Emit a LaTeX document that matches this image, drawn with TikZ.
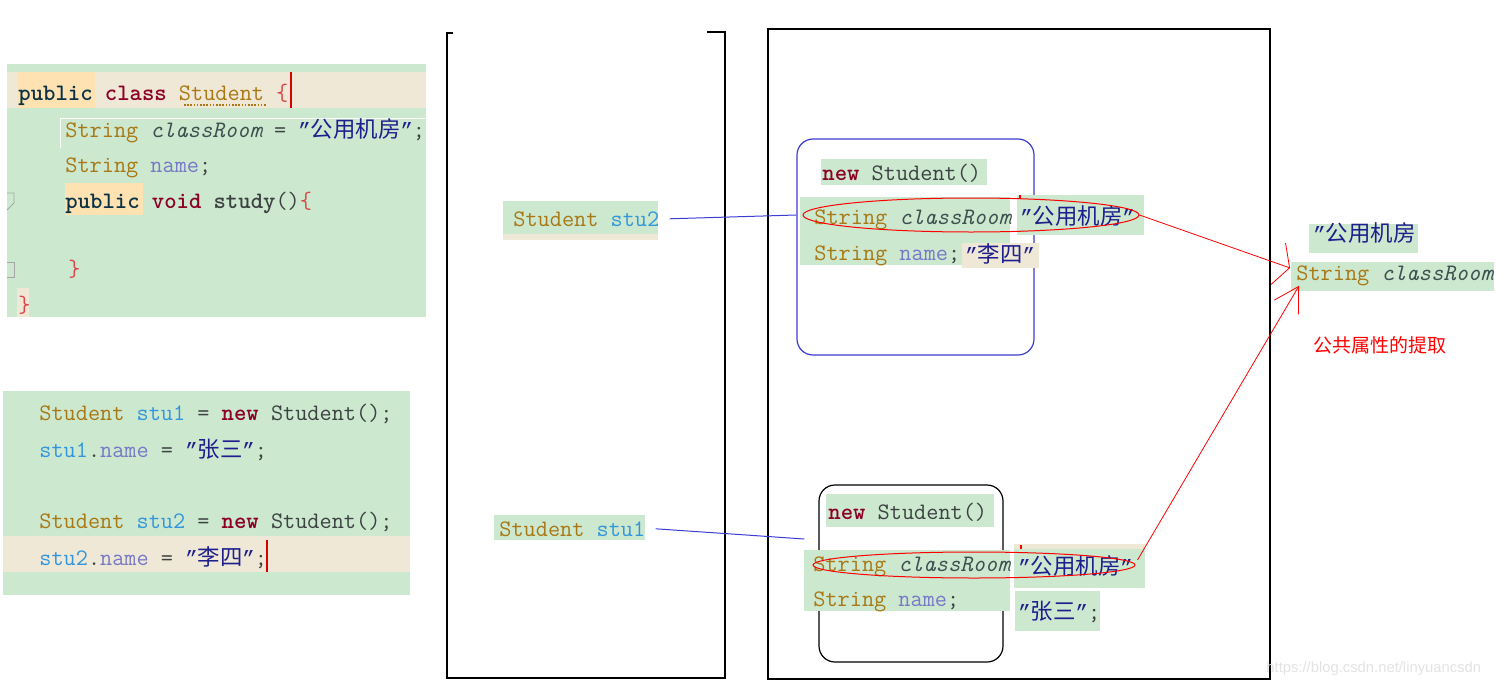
\documentclass[tikz,border=0pt]{standalone}
\usepackage{fontspec}
\newfontfamily\cjk{Noto Sans CJK SC}[Scale=0.95]
\newfontfamily\qfont{Liberation Mono}[Scale=0.875]
\newfontfamily\webfont{Liberation Sans}
\usetikzlibrary{arrows.meta,shapes.geometric}
\definecolor{codebg}{RGB}{204,232,207}
\definecolor{linebg}{RGB}{239,232,214}
\definecolor{hlbg}{RGB}{255,226,178}
\definecolor{kwcol}{RGB}{140,0,40}
\definecolor{pubcol}{RGB}{10,50,70}
\definecolor{tycol}{RGB}{168,120,20}
\definecolor{fldcol}{RGB}{60,80,80}
\definecolor{nmcol}{RGB}{120,120,200}
\definecolor{varcol}{RGB}{50,150,220}
\definecolor{strcol}{RGB}{30,30,140}
\definecolor{puncol}{RGB}{60,65,65}
\definecolor{brccol}{RGB}{220,70,70}
\definecolor{refblue}{RGB}{60,60,210}
\newcommand\kw[1]{{\bfseries\color{kwcol}#1}}
\newcommand\pubkw[1]{{\bfseries\color{pubcol}#1}}
\newcommand\ty[1]{\textcolor{tycol}{#1}}
\newcommand\fld[1]{{\itshape\color{fldcol}#1}}
\newcommand\nm[1]{\textcolor{nmcol}{#1}}
\newcommand\vr[1]{\textcolor{varcol}{#1}}
\newcommand\brc[1]{\textcolor{brccol}{#1}}
\newcommand\qt{{\qfont ”}}
\newcommand\lit[1]{{\color{strcol}\qt{\cjk #1}\qt}}
\tikzset{
  px/.style={x=0.5pt,y=-0.5pt},
  code/.style={anchor=base west,inner sep=0pt,font=\fontsize{11.8}{14}\selectfont\ttfamily,text=puncol},
  objbox/.style={rounded corners=8pt,line width=0.6pt,inner sep=0pt},
  ring/.style={draw=red,ellipse,inner sep=0pt,line width=0.5pt},
  ref/.style={draw=refblue,line width=0.5pt},
  share/.style={draw=red,line width=0.4pt},
  frame/.style={draw=black,line width=0.7pt},
  fold/.style={draw=gray!70,line width=0.4pt}
}
\begin{document}
\begin{tikzpicture}[px]
\useasboundingbox (0,0) rectangle (1504,685);
% class Student
\fill[codebg] (7,64) rectangle (426,317);
\fill[linebg] (7,72) rectangle (426,108);
\fill[hlbg] (17,72) rectangle (95,108);
\fill[hlbg] (65,183) rectangle (143,215);
\fill[linebg] (17,288) rectangle (29,317);
\draw[white,line width=0.5pt] (60,148) -- (60,118) -- (425,118);
\draw[fold] (7,193) -- (14,193) -- (14,203) -- (7,210);
\draw[fold] (7,262) -- (14,262) -- (14,277) -- (7,277);
\node[code] (cls) at (18,100) {\pubkw{public} \kw{class} \ty{Student} \brc{\{}};
\draw[tycol,line width=0.8pt,dash pattern=on 0.8pt off 0.8pt] (184,105) -- (267,105);
\draw[red!85!black,line width=1pt] (291,72) -- (291,108);
\node[code] (room) at (65,137) {\ty{String} \fld{classRoom} = \lit{公用机房};};
\node[code] (name) at (65,172) {\ty{String} \nm{name};};
\node[code] (study) at (65,208) {\pubkw{public} \kw{void} {\bfseries study}()\brc{\{}};
\node[code] (end1) at (68,276) {\brc{\}}};
\node[code] (end2) at (18,312) {\brc{\}}};
% main
\fill[codebg] (3,391) rectangle (410,595);
\fill[linebg] (3,536) rectangle (410,572);
\node[code] (m1) at (39,420) {\ty{Student} \vr{stu1} = \kw{new} Student();};
\node[code] (m2) at (39,457) {\vr{stu1}.\nm{name} = \lit{张三};};
\node[code] (m3) at (39,528) {\ty{Student} \vr{stu2} = \kw{new} Student();};
\node[code] (m4) at (39,565) {\vr{stu2}.\nm{name} = \lit{李四};};
\draw[red!85!black,line width=1pt] (267,540) -- (267,572);
% stack and heap
\draw[frame] (453,33) -- (447,33) -- (447,678) -- (725,678) -- (725,32) -- (707,32);
\draw[frame] (768,29) rectangle (1270,679);
\fill[codebg] (503,201) rectangle (658,234);
\fill[linebg] (503,234) rectangle (658,240);
\node[code] (stu2) at (513,226) {\ty{Student} \vr{stu2}};
\fill[codebg] (494,515) rectangle (645,540);
\node[code] (stu1) at (499,536) {\ty{Student} \vr{stu1}};
% object of stu2
\node[objbox,draw=refblue,minimum width=118.5pt,minimum height=108pt] (obj2) at (915.5,247) {};
\fill[codebg] (821,159) rectangle (987,185);
\fill[codebg] (800,197) rectangle (1010,265);
\fill[codebg] (1017,195) rectangle (1144,235);
\fill[linebg] (962,243) rectangle (1039,268);
\node[code] (new2) at (822,180) {\kw{new} Student()};
\node[code] (cr2) at (814,224) {\ty{String} \fld{classRoom}};
\node[code] (v2) at (1020,224) {\lit{公用机房}};
\node[code] (nm2) at (814,260) {\ty{String} \nm{name};};
\node[code] (n2) at (965,262) {\lit{李四}};
\node[ring,minimum width=168pt,minimum height=17pt] (ring2) at (971,215) {};
\draw[red,line width=0.8pt] (1020,195) -- (1020,199);
% object of stu1
\node[objbox,draw=black,minimum width=92pt,minimum height=88.5pt] (obj1) at (911,573.5) {};
\fill[codebg] (826,494) rectangle (994,527);
\fill[codebg] (804,550) rectangle (1010,611);
\fill[linebg] (1014,544) rectangle (1145,549);
\fill[codebg] (1014,549) rectangle (1145,588);
\fill[codebg] (1015,591) rectangle (1100,631);
\node[code] (new1) at (828,519) {\kw{new} Student()};
\node[code] (cr1) at (813,571) {\ty{String} \fld{classRoom}};
\node[code] (v1) at (1018,574) {\lit{公用机房}};
\node[code] (nm1) at (813,606) {\ty{String} \nm{name};};
\node[code] (n1) at (1018,619) {\lit{张三};};
\node[ring,minimum width=161pt,minimum height=13pt] (ring1) at (974,565) {};
\draw[red,line width=0.8pt] (1021,545) -- (1021,549);
% references
\draw[ref] ([xshift=5pt]stu2.east) -- ([yshift=16pt]obj2.west);
\draw[ref] ([xshift=5pt]stu1.east) -- ([shift={(-7pt,17.25pt)}]obj1.west);
% shared field
\fill[codebg] (1309,224) rectangle (1418,253);
\fill[codebg] (1291,262) rectangle (1494,291);
\node[code] (sv) at (1313,241) {{\color{strcol}\qt{\cjk 公用机房}}};
\node[code] (shared) at (1296,280) {\ty{String} \fld{classRoom}};
\node[anchor=base west,inner sep=0pt,text=red,font=\cjk\fontsize{10}{11}\selectfont] (note) at (1313,352) {公共属性的提取};
\draw[share,-{Straight Barb[length=6pt,width=22pt]}] (ring2.east) -- ([shift={(-3pt,3.7pt)}]shared.west);
\draw[share,-{Straight Barb[length=12pt,width=14pt]}] ([shift={(1pt,2.5pt)}]ring1.east) -- ([xshift=1.5pt]shared.south west);
\node[anchor=base west,inner sep=0pt,text=gray!22,font=\webfont\fontsize{7.4}{9}\selectfont] (mark) at (1266,672) {https://blog.csdn.net/linyuancsdn};
\end{tikzpicture}
\end{document}
